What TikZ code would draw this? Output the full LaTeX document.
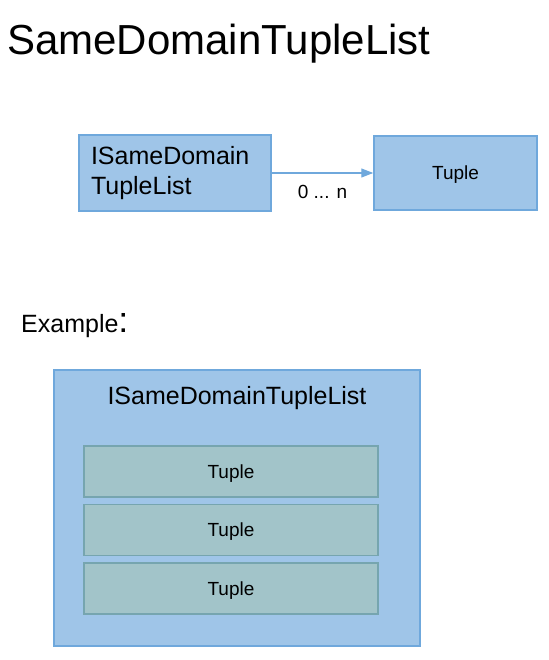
\documentclass[tikz,border=0pt]{standalone}
\usepackage{fontspec}
\setmainfont{Liberation Sans}
\usetikzlibrary{arrows.meta, positioning}

\definecolor{listblue}{HTML}{9FC5E8}
\definecolor{listedge}{HTML}{6FA8DC}
\definecolor{tuplefill}{HTML}{A2C4C9}
\definecolor{tupleedge}{HTML}{76A5AF}

\begin{document}
\begin{tikzpicture}[x=1pt, y=1pt, >={Triangle[length=12pt,width=9pt]},
    bluebox/.style={draw=listedge, fill=listblue, line width=1.5pt, inner sep=0pt},
    tuplebox/.style={draw=tupleedge, fill=tuplefill, line width=1.5pt, inner sep=0pt, text depth=0pt,
                     minimum width=294pt, minimum height=51pt, font=\fontsize{19}{22}\selectfont},
    node distance=6pt]
    \useasboundingbox (0,0) rectangle (548,-660);

    \node [anchor=base west, inner sep=0pt, font=\fontsize{42}{48}\selectfont] (title) at (7,-55) {SameDomainTupleList};

    \node [bluebox, minimum width=192pt, minimum height=76pt, text width=168pt, align=left,
           inner xsep=12pt, font=\fontsize{25}{30}\selectfont] (isdtl) at (175,-173) {ISameDomain\\TupleList};
    \node [bluebox, minimum width=163pt, minimum height=74pt, text depth=0pt,
           font=\fontsize{19}{22}\selectfont] (tuple) at (455.5,-173) {Tuple};
 \draw[->, listedge, line width=1.2pt]
      (isdtl) -- node[below=8pt, black, font=\fontsize{19}{22}\selectfont] (mult) {0 ... n} (tuple);

    \node [anchor=base west, inner sep=0pt, font=\fontsize{25}{30}\selectfont] (example) at (21,-332)
          {Example{\fontsize{36}{36}\selectfont:}};

    \node [bluebox, minimum width=366pt, minimum height=276pt] (list) at (237,-508) {};
    \node [font=\fontsize{25}{30}\selectfont] (listname) at (237,-398) {ISameDomainTupleList};
    \node [tuplebox] (t1) at (231,-471.5) {Tuple};
    \node [tuplebox, below=of t1] (t2) {Tuple};
    \node [tuplebox, below=of t2] (t3) {Tuple};
                        \end{tikzpicture}
\end{document}
